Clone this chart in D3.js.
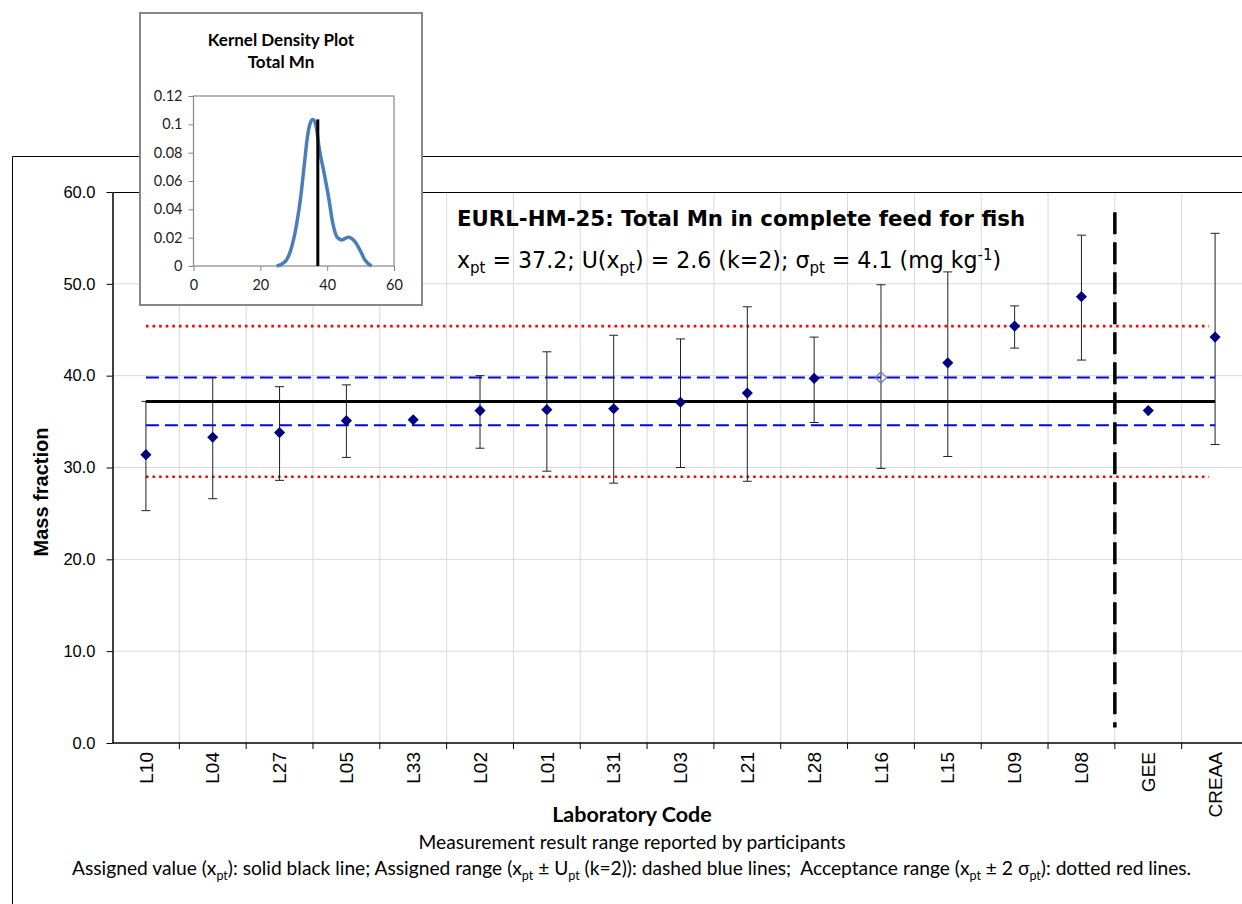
<!DOCTYPE html>
<html>
<head>
<meta charset="utf-8">
<script src="https://cdnjs.cloudflare.com/ajax/libs/d3/7.8.5/d3.min.js"></script>
<style>
  body { margin: 0; background: #fff; }
  svg { display: block; }
  text { white-space: pre; }
</style>
</head>
<body>
<div id="chart"></div>
<script>
// lab results
const labs = ["L10", "L04", "L27", "L05", "L33", "L02", "L01", "L31", "L03", "L21", "L28", "L16", "L15", "L09", "L08", "GEE", "CREAA"];
const values = [31.4, 33.3, 33.8, 35.1, 35.2, 36.2, 36.3, 36.4, 37.1, 38.1, 39.7, 39.8, 41.4, 45.4, 48.6, 36.2, 44.2];
const upper = [37.2, 39.8, 38.8, 39.0, null, 40.0, 42.6, 44.4, 44.0, 47.5, 44.2, 49.9, 51.3, 47.6, 55.3, null, 55.5];
const lower = [25.3, 26.6, 28.6, 31.1, null, 32.1, 29.6, 28.3, 30.0, 28.5, 34.9, 29.9, 31.2, 43.0, 41.7, null, 32.5];
const hollowLabs = ["L16"];
const yTicks = [0, 10, 20, 30, 40, 50, 60];

const xpt = 37.2, Upt = 2.6, sigmaPt = 4.1;
const separatorRange = [57.8, 1.7];

// kernel density curve
const kdeX = [24.9, 27.4, 29.4, 30.9, 32.1, 33.2, 34.1, 34.9, 35.7, 36.5, 37.7, 39.1, 40.4, 41.7, 43.0, 44.4, 46.3, 48.3, 49.8, 51.3, 53.3];
const kdeY = [0, 0.003, 0.0136, 0.030, 0.049, 0.0725, 0.0913, 0.1007, 0.1035, 0.1007, 0.0819, 0.0654, 0.049, 0.030, 0.0203, 0.0184, 0.0203, 0.0172, 0.0113, 0.0042, 0];
const kdePeak = 0.1035;
const kdeXTicks = [0, 20, 40, 60];
const kdeYTicks = [0, 0.02, 0.04, 0.06, 0.08, 0.1, 0.12];

const W = 1242, H = 904;
const arial = "'Liberation Sans', Arial, sans-serif";
const calibri = "Lato, 'Open Sans', sans-serif";
const verdana = "'DejaVu Sans', Verdana, sans-serif";

const svg = d3.select("#chart").append("svg")
    .attr("width", W).attr("height", H);

// outer chart frame
svg.append("path")
    .attr("d", `M12.5,${H} V156.5 H${W}`)
    .attr("fill", "none").attr("stroke", "#000").attr("stroke-width", 1);

const x = d3.scaleBand().domain(labs).range([112.5, 1248.5]);
const y = d3.scaleLinear().domain([0, 60]).range([743, 192]);
const cx = d => x(d) + x.bandwidth() / 2;

// grid
svg.append("g").selectAll("line").data(yTicks.filter(t => t > 0 && t < 60)).join("line")
    .attr("x1", x.range()[0]).attr("x2", x.range()[1])
    .attr("y1", d => y(d)).attr("y2", d => y(d))
    .attr("stroke", "#d9d9d9").attr("stroke-width", 1);
svg.append("g").selectAll("line").data(labs.slice(1)).join("line")
    .attr("x1", d => x(d)).attr("x2", d => x(d))
    .attr("y1", y(60)).attr("y2", y(0))
    .attr("stroke", "#d9d9d9").attr("stroke-width", 1);

// plot area top border
svg.append("line")
    .attr("x1", x.range()[0]).attr("x2", x.range()[1])
    .attr("y1", y(60) + 0.5).attr("y2", y(60) + 0.5)
    .attr("stroke", "#000").attr("stroke-width", 1);

// y axis
const yAxis = svg.append("g")
    .attr("transform", `translate(${x.range()[0]},0)`)
    .call(d3.axisLeft(y).tickValues(yTicks).tickFormat(d3.format(".1f")).tickSize(6).tickSizeOuter(0).tickPadding(11));
yAxis.select(".domain").attr("stroke-width", 1.5);
yAxis.selectAll("text").attr("font-family", arial).attr("font-size", 16.5).attr("fill", "#000");

// x axis
const xAxis = svg.append("g").attr("transform", `translate(0,${y(0)})`);
xAxis.append("line")
    .attr("x1", x.range()[0]).attr("x2", x.range()[1])
    .attr("stroke", "#000").attr("stroke-width", 1.5);
xAxis.selectAll(".tk").data(labs.slice(1)).join("line").attr("class", "tk")
    .attr("x1", d => x(d)).attr("x2", d => x(d))
    .attr("y1", 0).attr("y2", 6)
    .attr("stroke", "#000");
xAxis.selectAll(".lb").data(labs).join("text").attr("class", "lb")
    .attr("transform", d => `translate(${cx(d)},9) rotate(-90)`)
    .attr("text-anchor", "end").attr("dy", "0.35em")
    .attr("font-family", arial).attr("font-size", 19)
    .text(d => d);

// reference lines
const xStart = cx(labs[0]), xEnd = cx(labs[labs.length - 1]);
function hline(v, color, width, dash, x2) {
    svg.append("line")
        .attr("x1", xStart).attr("x2", x2 || xEnd)
        .attr("y1", y(v)).attr("y2", y(v))
        .attr("stroke", color).attr("stroke-width", width)
        .attr("stroke-dasharray", dash);
}
hline(xpt + 2 * sigmaPt, "#ff0000", 2.6, "2.6,4", xEnd - 6);
hline(xpt - 2 * sigmaPt, "#ff0000", 2.6, "2.6,4", xEnd - 6);
hline(xpt + Upt, "#0000ff", 2, "13,6");
hline(xpt - Upt, "#0000ff", 2, "13,6");

// error bars
const bars = labs.map((d, i) => ({ lab: d, v: values[i], hi: upper[i], lo: lower[i] }))
    .filter(d => d.hi != null);
const eb = svg.append("g").attr("stroke", "#222").attr("stroke-width", 1);
eb.selectAll(".v").data(bars).join("line").attr("class", "v")
    .attr("x1", d => cx(d.lab)).attr("x2", d => cx(d.lab))
    .attr("y1", d => y(d.hi)).attr("y2", d => y(d.lo));
eb.selectAll(".t").data(bars).join("line").attr("class", "t")
    .attr("x1", d => cx(d.lab) - 4.5).attr("x2", d => cx(d.lab) + 4.5)
    .attr("y1", d => y(d.hi)).attr("y2", d => y(d.hi));
eb.selectAll(".b").data(bars).join("line").attr("class", "b")
    .attr("x1", d => cx(d.lab) - 4.5).attr("x2", d => cx(d.lab) + 4.5)
    .attr("y1", d => y(d.lo)).attr("y2", d => y(d.lo));

// assigned value
hline(xpt, "#000", 3, null);

// separator between participants and other labs
const sepX = x(labs[labs.length - 2]);
svg.append("line")
    .attr("x1", sepX).attr("x2", sepX)
    .attr("y1", y(separatorRange[0])).attr("y2", y(separatorRange[1]))
    .attr("stroke", "#000").attr("stroke-width", 3.5)
    .attr("stroke-dasharray", "22,8");

// markers
const diamond = d3.symbol().type(d3.symbolSquare).size(62);
svg.append("g").selectAll("path").data(labs).join("path")
    .attr("d", diamond)
    .attr("transform", (d, i) => `translate(${cx(d)},${y(values[i])}) rotate(45)`)
    .attr("fill", d => hollowLabs.includes(d) ? "none" : "#000080")
    .attr("stroke", d => hollowLabs.includes(d) ? "#6b78b8" : "none")
    .attr("stroke-width", 1.2);

// text with sub / superscripts, shifts in px
function richPx(sel, parts, fs, subFs) {
    let shift = 0;
    parts.forEach(p => {
        const [txt, kind] = Array.isArray(p) ? p : [p, ""];
        const target = kind === "sub" ? 0.28 * fs : kind === "sup" ? -0.42 * fs : 0;
        const ts = sel.append("tspan").text(txt).attr("dy", target - shift);
        if (kind) ts.attr("font-size", subFs);
        shift = target;
    });
}

// title
svg.append("text")
    .attr("x", 457).attr("y", 226)
    .attr("font-family", verdana).attr("font-weight", "bold").attr("font-size", 21.3)
    .text("EURL-HM-25: Total Mn in complete feed for fish");
const sub = svg.append("text")
    .attr("x", 457).attr("y", 268)
    .attr("font-family", verdana).attr("font-size", 22.1);
richPx(sub, ["x", ["pt", "sub"], ` = ${xpt}; U(x`, ["pt", "sub"], `) = ${Upt} (k=2); σ`, ["pt", "sub"],
    ` = ${sigmaPt} (mg kg`, ["-1", "sup"], ")"], 19, 15);

// axis titles
svg.append("text")
    .attr("transform", "translate(48,492) rotate(-90)")
    .attr("text-anchor", "middle")
    .attr("font-family", arial).attr("font-weight", "bold").attr("font-size", 20)
    .text("Mass fraction");
svg.append("text")
    .attr("x", 632).attr("y", 822).attr("text-anchor", "middle")
    .attr("font-family", calibri).attr("font-weight", "bold").attr("font-size", 21.5)
    .text("Laboratory Code");
svg.append("text")
    .attr("x", 632).attr("y", 849).attr("text-anchor", "middle")
    .attr("font-family", calibri).attr("font-size", 19.2)
    .text("Measurement result range reported by participants");
const foot = svg.append("text")
    .attr("x", 72).attr("y", 875)
    .attr("font-family", calibri).attr("font-size", 19.2);
richPx(foot, ["Assigned value (x", ["pt", "sub"], "): solid black line; Assigned range (x", ["pt", "sub"],
    " ± U", ["pt", "sub"], " (k=2)): dashed blue lines;  Acceptance range (x", ["pt", "sub"],
    " ± 2 σ", ["pt", "sub"], "): dotted red lines."], 17, 12.5);

// ---- inset: kernel density plot ----
const inset = svg.append("g");
inset.append("rect")
    .attr("x", 140).attr("y", 13).attr("width", 282).attr("height", 292)
    .attr("fill", "#fff").attr("stroke", "#888").attr("stroke-width", 2);
inset.append("text")
    .attr("x", 281).attr("y", 46).attr("text-anchor", "middle")
    .attr("font-family", calibri).attr("font-weight", "bold").attr("font-size", 17)
    .text("Kernel Density Plot");
inset.append("text")
    .attr("x", 281).attr("y", 68).attr("text-anchor", "middle")
    .attr("font-family", calibri).attr("font-weight", "bold").attr("font-size", 17)
    .text("Total Mn");

const kx = d3.scaleLinear().domain([0, 60]).range([193.5, 394]);
const ky = d3.scaleLinear().domain([0, 0.12]).range([266, 96]);

inset.append("rect")
    .attr("x", kx(0)).attr("y", ky(0.12))
    .attr("width", kx(60) - kx(0)).attr("height", ky(0) - ky(0.12))
    .attr("fill", "none").attr("stroke", "#868686").attr("stroke-width", 1.2);

const kyAxis = inset.append("g").attr("transform", `translate(${kx(0)},0)`)
    .call(d3.axisLeft(ky).tickValues(kdeYTicks).tickFormat(d => String(d)).tickSize(5).tickSizeOuter(0).tickPadding(6));
const kxAxis = inset.append("g").attr("transform", `translate(0,${ky(0)})`)
    .call(d3.axisBottom(kx).tickValues(kdeXTicks).tickSize(5).tickSizeOuter(0).tickPadding(9));
[kyAxis, kxAxis].forEach(a => {
    a.select(".domain").remove();
    a.selectAll("line").attr("stroke", "#868686");
    a.selectAll("text").attr("font-family", calibri).attr("font-size", 14.5).attr("fill", "#222");
});

const kde = kdeX.map((v, i) => [v, kdeY[i]]);
inset.append("path")
    .datum(kde)
    .attr("d", d3.line().x(d => kx(d[0])).y(d => ky(d[1])).curve(d3.curveMonotoneX))
    .attr("fill", "none").attr("stroke", "#4a7ebb").attr("stroke-width", 3.5);
inset.append("line")
    .attr("x1", kx(xpt)).attr("x2", kx(xpt))
    .attr("y1", ky(0)).attr("y2", ky(kdePeak))
    .attr("stroke", "#000").attr("stroke-width", 3);
</script>
</body>
</html>
